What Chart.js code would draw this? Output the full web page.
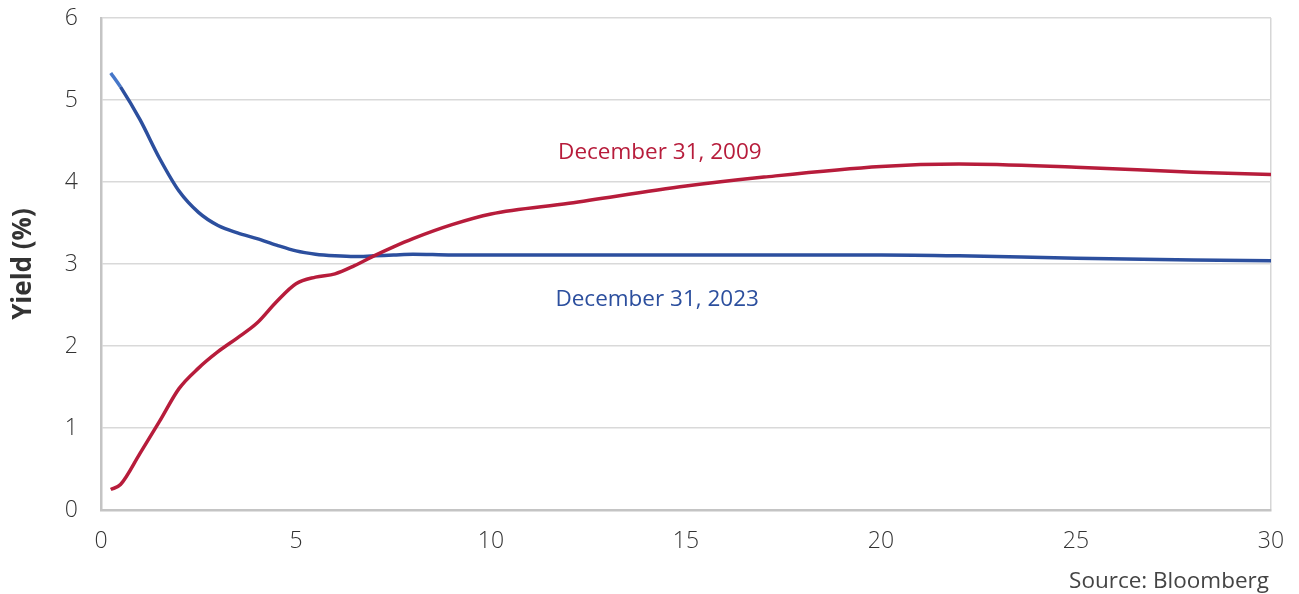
<!DOCTYPE html>
<html>
<head>
<meta charset="utf-8">
<script src="https://cdn.jsdelivr.net/npm/chart.js@4.4.1/dist/chart.umd.min.js"></script>
<style>
  html, body { margin: 0; padding: 0; background: #fff; }
  #wrap { width: 1299px; height: 594px; }
</style>
</head>
<body>
<div id="wrap"><canvas id="myChart"></canvas></div>
<script>
// maturities in years
var maturities = [0.25, 0.5, 1, 1.5, 2, 2.5, 3, 3.5, 4, 4.5, 5, 5.5, 6, 6.5, 7, 7.5, 8, 9, 10, 12, 15, 17, 20, 22, 25, 28, 30];
// yield curve Dec 31, 2009
var yields2009 = [0.25, 0.31, 0.69, 1.08, 1.48, 1.73, 1.93, 2.10, 2.28, 2.54, 2.76, 2.84, 2.88, 2.98, 3.10, 3.21, 3.31, 3.48, 3.61, 3.74, 3.95, 4.06, 4.19, 4.22, 4.18, 4.12, 4.09];
// yield curve Dec 31, 2023
var yields2023 = [5.33, 5.16, 4.76, 4.29, 3.89, 3.63, 3.47, 3.38, 3.31, 3.23, 3.16, 3.12, 3.10, 3.09, 3.10, 3.11, 3.12, 3.11, 3.11, 3.11, 3.11, 3.11, 3.11, 3.10, 3.07, 3.05, 3.04];

var xTicks = [0, 5, 10, 15, 20, 25, 30];
var yTicks = [0, 1, 2, 3, 4, 5, 6];

var RED = '#b71c3b';
var BLUE = '#2c4f9e';
var FONT = '"Open Sans", sans-serif';

function toPoints(ys) {
  return maturities.map(function (m, i) { return { x: m, y: ys[i] }; });
}

// labels placed at data coordinates
var seriesLabels = [
  { text: 'December 31, 2009', x: 14.33, y: 4.36, color: RED },
  { text: 'December 31, 2023', x: 14.26, y: 2.57, color: BLUE }
];

var labelPlugin = {
  id: 'labelPlugin',
  afterDatasetsDraw: function (chart) {
    var ctx = chart.ctx;
    var xs = chart.scales.x, ys = chart.scales.y;
    ctx.save();
    ctx.font = '22.5px ' + FONT;
    ctx.textAlign = 'center';
    ctx.textBaseline = 'middle';
    seriesLabels.forEach(function (l) {
      ctx.fillStyle = l.color;
      ctx.fillText(l.text, xs.getPixelForValue(l.x), ys.getPixelForValue(l.y));
    });
    // source note
    ctx.fillStyle = '#444';
    ctx.font = '22.5px ' + FONT;
    ctx.textAlign = 'right';
    ctx.textBaseline = 'alphabetic';
    ctx.fillText('Source: Bloomberg', chart.chartArea.right - 2, 588);
    ctx.restore();
  }
};

var ctx = document.getElementById('myChart').getContext('2d');
var myChart = new Chart(ctx, {
  type: 'line',
  data: {
    datasets: [{
      label: 'December 31, 2009',
      data: toPoints(yields2009),
      borderColor: RED,
      borderWidth: 3.5,
      pointRadius: 0,
      cubicInterpolationMode: 'monotone'
    }, {
      label: 'December 31, 2023',
      data: toPoints(yields2023),
      borderColor: BLUE,
      borderWidth: 3.5,
      pointRadius: 0,
      cubicInterpolationMode: 'monotone',
      segment: {
        borderColor: function (c) { return c.p0DataIndex === 0 ? '#4677c9' : BLUE; }
      }
    }]
  },
  options: {
    responsive: true,
    maintainAspectRatio: false,
    animation: false,
    layout: { padding: { top: 18, right: 28, left: 0, bottom: 0 } },
    plugins: {
      legend: { display: false },
      tooltip: { enabled: false }
    },
    scales: {
      x: {
        type: 'linear',
        min: 0,
        max: 30,
        afterBuildTicks: function (scale) {
          scale.ticks = xTicks.map(function (v) { return { value: v }; });
        },
        afterFit: function (scale) {
          scale.height = 84;
          scale.paddingLeft = 0;
          scale.paddingRight = 0;
        },
        grid: {
          drawTicks: false,
          lineWidth: 1.5,
          color: function (c) { return c.tick && c.tick.value === 30 ? '#d6d6d6' : 'rgba(0,0,0,0)'; }
        },
        border: { color: '#c4c4c4', width: 2.5 },
        ticks: {
          padding: 18,
          color: '#333',
          font: { family: FONT, size: 23, weight: 300 }
        }
      },
      y: {
        min: 0,
        max: 6,
        afterBuildTicks: function (scale) {
          scale.ticks = yTicks.map(function (v) { return { value: v }; });
        },
        afterFit: function (scale) {
          scale.width = 101;
          scale.paddingTop = 0;
          scale.paddingBottom = 0;
        },
        grid: {
          drawTicks: false,
          lineWidth: 1.5,
          color: function (c) { return c.tick && c.tick.value === 0 ? 'rgba(0,0,0,0)' : '#d9d9d9'; }
        },
        border: { color: '#c4c4c4', width: 2.5 },
        title: {
          display: true,
          text: 'Yield (%)',
          color: '#333',
          padding: { top: 8, bottom: 4 },
          font: { family: FONT, size: 26, weight: 'bold' }
        },
        ticks: {
          padding: 23,
          color: '#333',
          font: { family: FONT, size: 23, weight: 300 }
        }
      }
    }
  },
  plugins: [labelPlugin]
});
</script>
</body>
</html>
